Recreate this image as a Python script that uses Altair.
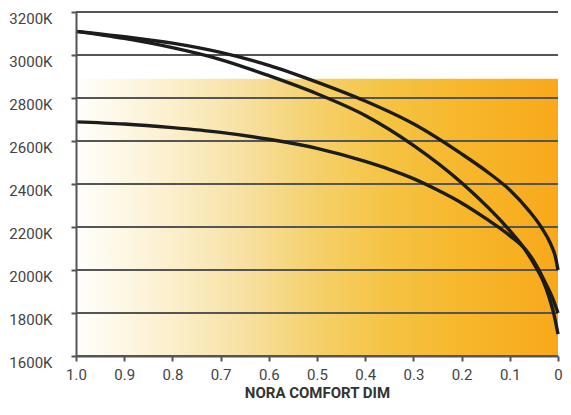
import altair as alt
import pandas as pd

# ---- data ----
# curve 1: outer top curve (3110K -> 2000K)
dim_1 = [1.0, 0.9, 0.8, 0.7, 0.6, 0.5, 0.4, 0.3, 0.2, 0.15, 0.1, 0.06, 0.035, 0.015, 0.005, 0.0]
kel_1 = [3110, 3085, 3055, 3012, 2952, 2874, 2786, 2680, 2540, 2462, 2372, 2275, 2200, 2120, 2058, 2000]

# curve 2: inner top curve (3110K -> 1700K)
dim_2 = [1.0, 0.9, 0.8, 0.7, 0.6, 0.5, 0.4, 0.3, 0.2, 0.1, 0.07, 0.045, 0.03, 0.018, 0.008, 0.0]
kel_2 = [3110, 3077, 3034, 2979, 2904, 2820, 2719, 2580, 2406, 2183, 2100, 2010, 1945, 1870, 1790, 1702]

# curve 3: lower curve (2690K -> 1800K)
dim_3 = [1.0, 0.9, 0.8, 0.7, 0.6, 0.5, 0.4, 0.35, 0.3, 0.25, 0.2, 0.15, 0.1, 0.066, 0.045, 0.025, 0.01, 0.004, 0.0]
kel_3 = [2689, 2679, 2662, 2640, 2608, 2566, 2505, 2468, 2425, 2372, 2312, 2240, 2160, 2092, 2022, 1935, 1862, 1825, 1800]

x_ticks = [1.0, 0.9, 0.8, 0.7, 0.6, 0.5, 0.4, 0.3, 0.2, 0.1, 0.0]
y_ticks = [1600, 1800, 2000, 2200, 2400, 2600, 2800, 3000, 3200]

band_dim = [1.0, 0.0]
band_kel = [1600, 2890]

rows = []
for name, ds, ks in (("c1", dim_1, kel_1), ("c2", dim_2, kel_2), ("c3", dim_3, kel_3)):
    for i, (d, k) in enumerate(zip(ds, ks)):
        rows.append({"curve": name, "dim": d, "kelvin": k, "ord": i})
curves = pd.DataFrame(rows)

band = pd.DataFrame([{"d0": band_dim[0], "d1": band_dim[1], "k0": band_kel[0], "k1": band_kel[1]}])
grid = pd.DataFrame({"k": y_ticks})

FONT = "Roboto"
xscale = alt.Scale(domain=[0, 1], reverse=True, nice=False, zero=False)
yscale = alt.Scale(domain=[1600, 3200], nice=False, zero=False)

xaxis = alt.Axis(
    values=x_ticks,
    labelExpr="datum.value == 0 ? '0' : format(datum.value, '.1f')",
    labelFont=FONT, labelFontSize=15, labelColor="#444444", labelPadding=6,
    labelFlush=False, labelOverlap=False,
    tickSize=5, tickColor="#555555", tickWidth=2,
    domainColor="#555555", domainWidth=2,
    grid=False, zindex=1,
    title="NORA COMFORT DIM", titleFont=FONT, titleFontSize=15,
    titleFontWeight="bold", titleColor="#333333", titlePadding=3,
)
yaxis = alt.Axis(
    values=y_ticks,
    labelExpr="datum.value + 'K'",
    labelFont=FONT, labelFontSize=15, labelColor="#444444", labelPadding=19,
    labelOffset=6, labelFlush=False, labelOverlap=False,
    tickSize=5, tickColor="#555555", tickWidth=2,
    domainColor="#555555", domainWidth=2,
    grid=False, zindex=1, title=None,
)

gradient = alt.LinearGradient(
    gradient="linear", x1=0, x2=1, y1=0, y2=0,
    stops=[
        alt.GradientStop(offset=0.0, color="#fffefb"),
        alt.GradientStop(offset=0.2, color="#fbefcc"),
        alt.GradientStop(offset=0.35, color="#f7e0a2"),
        alt.GradientStop(offset=0.5, color="#f5d06a"),
        alt.GradientStop(offset=0.65, color="#f5c342"),
        alt.GradientStop(offset=0.8, color="#f7b72c"),
        alt.GradientStop(offset=1.0, color="#f8a91a"),
    ],
)

rect = alt.Chart(band).mark_rect(color=gradient).encode(
    x=alt.X("d0:Q", scale=xscale, axis=xaxis),
    x2="d1:Q",
    y=alt.Y("k0:Q", scale=yscale, axis=yaxis),
    y2="k1:Q",
)

rules = alt.Chart(grid).mark_rule(color="#555555", strokeWidth=2).encode(
    y=alt.Y("k:Q", scale=yscale),
)

lines = alt.Chart(curves).mark_line(color="#1c1c1c", strokeWidth=3.4, interpolate="monotone").encode(
    x=alt.X("dim:Q", scale=xscale),
    y=alt.Y("kelvin:Q", scale=yscale),
    detail="curve:N",
    order="ord:Q",
)

chart = alt.layer(rect, rules, lines).properties(
    width=482, height=344,
    autosize=alt.AutoSizeParams(type="none"),
    padding={"left": 68, "top": 4, "right": 5, "bottom": 45},
).configure_view(stroke=None)

chart.save("out.html", embed_options={"renderer": "svg", "actions": False})
